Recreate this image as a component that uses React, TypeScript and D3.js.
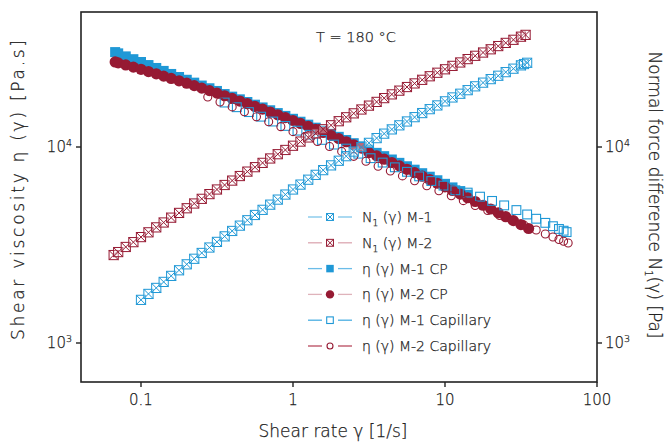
import React from "react";
import * as d3 from "d3";

// ---------- data ----------
const N1_M1_RATE = [0.1,0.112,0.126,0.141,0.158,0.178,0.2,0.224,0.251,0.282,0.316,0.355,0.398,0.447,0.501,0.562,0.631,0.708,0.794,0.891,1,1.12,1.26,1.41,1.58,1.78,2,2.24,2.51,2.82,3.16,3.55,3.98,4.47,5.01,5.62,6.31,7.08,7.94,8.91,10,11.2,12.6,14.1,15.8,17.8,20,22.4,25.1,28.2,31.6,33.1,34.7];
const N1_M1 = [1660,1780,1910,2050,2200,2350,2520,2690,2880,3070,3280,3500,3730,3970,4230,4500,4780,5080,5390,5720,6070,6430,6810,7210,7620,8060,8510,8980,9480,9990,10500,11100,11700,12300,12900,13500,14200,14900,15600,16300,17100,17900,18700,19500,20400,21300,22200,23100,24100,25100,26100,26500,26900];

const N1_M2_RATE = [0.0661,0.0708,0.0794,0.0891,0.1,0.112,0.126,0.141,0.158,0.178,0.2,0.224,0.251,0.282,0.316,0.355,0.398,0.447,0.501,0.562,0.631,0.708,0.794,0.891,1,1.12,1.26,1.41,1.58,1.78,2,2.24,2.51,2.82,3.16,3.55,3.98,4.47,5.01,5.62,6.31,7.08,7.94,8.91,10,11.2,12.6,14.1,15.8,17.8,20,22.4,25.1,28.2,31.6,33.9];
const N1_M2 = [2810,2910,3090,3270,3470,3670,3890,4120,4360,4610,4870,5150,5440,5750,6070,6400,6740,7110,7490,7890,8300,8740,9190,9660,10150,10660,11190,11740,12320,12910,13540,14180,14850,15540,16260,16990,17760,18560,19390,20230,21110,22020,22960,23930,24920,25940,27000,28090,29200,30340,31520,32730,33980,35240,36550,37340];

const CP_M1_RATE = [0.0676,0.0708,0.0794,0.0891,0.1,0.112,0.126,0.141,0.158,0.178,0.2,0.224,0.251,0.282,0.316,0.355,0.398,0.447,0.501,0.562,0.631,0.708,0.794,0.891,1,1.12,1.26,1.41,1.58,1.78,2,2.24,2.51,2.82,3.16,3.55,3.98,4.47,5.01,5.62,6.31,7.08,7.94,8.91,10,11.2,12.6,14.1];
const CP_M1 = [30500,30050,29000,28060,27150,26190,25310,24450,23590,22760,22030,21300,20590,19940,19320,18630,18070,17510,16970,16440,15920,15400,14900,14410,13930,13460,13000,12550,12110,11680,11270,10860,10460,10080,9700,9336,8980,8634,8302,7975,7661,7351,7054,6766,6488,6221,5959,5706];

const CP_M2_RATE = [0.0676,0.0708,0.0794,0.0891,0.1,0.112,0.126,0.141,0.158,0.178,0.2,0.224,0.251,0.282,0.316,0.355,0.398,0.447,0.501,0.562,0.631,0.708,0.794,0.891,1,1.12,1.26,1.41,1.58,1.78,2,2.24,2.51,2.82,3.16,3.55,3.98,4.47,5.01,5.62,6.31,7.08,7.94,8.91,10,11.2,12.6,14.1,15.8,17.8,20,22.4,25.1,28.2,31.6,35.5];
const CP_M2 = [27160,26880,26220,25560,24910,24270,23630,23000,22380,21760,21160,20560,19970,19400,18830,18260,17710,17160,16630,16110,15600,15090,14600,14120,13650,13190,12740,12300,11870,11450,11040,10640,10250,9876,9363,9012,8668,8334,8014,7698,7395,7096,6809,6531,6263,6005,5752,5508,5272,5044,4826,4615,4409,4212,4022,3839];

const CAP_M1_RATE = [0.355,0.427,0.513,0.617,0.741,0.891,1.07,1.29,1.55,1.86,2.24,2.69,3.24,3.89,4.68,5.62,6.76,8.13,9.77,11.7,14.1,17.0,20.4,24.5,29.5,34.7,39.8,45.7,51.3,56.2,60.3,63.1];
const CAP_M1 = [16860,15960,15070,14280,13490,12810,12120,11540,10870,10290,9815,9246,8771,8329,7880,7472,7083,6705,6354,6015,5852,5580,5308,5036,4767,4527,4305,4102,3944,3819,3741,3680];

const CAP_M2_RATE = [0.275,0.331,0.398,0.479,0.575,0.692,0.832,1,1.2,1.45,1.74,2.09,2.51,3.02,3.63,4.37,5.25,6.31,7.59,9.12,11.0,13.2,15.8,19.1,22.9,27.5,33.1,39.8,45.7,51.3,56.2,60.3,64.6];
const CAP_M2 = [17990,16980,16020,15120,14260,13460,12700,11980,11300,10670,10060,9497,8960,8455,7978,7549,7122,6722,6341,5982,5644,5325,5028,4742,4474,4233,3994,3769,3601,3475,3371,3304,3238];

const X_TICKS = [0.1, 1, 10, 100];
const X_TICK_LABELS = ["0.1", "1", "10", "100"];
const Y_TICKS = [1000, 10000];
const Y_TICK_EXP = ["3", "4"];

const BLUE = "#1f98d6";
const RED = "#961a33";

type Marker = "sqx" | "sqfill" | "circfill" | "sqopen" | "circopen";

const SERIES: { rate: number[]; val: number[]; color: string; marker: Marker }[] = [
  { rate: CP_M1_RATE, val: CP_M1, color: BLUE, marker: "sqfill" },
  { rate: CP_M2_RATE, val: CP_M2, color: RED, marker: "circfill" },
  { rate: CAP_M1_RATE, val: CAP_M1, color: BLUE, marker: "sqopen" },
  { rate: CAP_M2_RATE, val: CAP_M2, color: RED, marker: "circopen" },
  { rate: N1_M1_RATE, val: N1_M1, color: BLUE, marker: "sqx" },
  { rate: N1_M2_RATE, val: N1_M2, color: RED, marker: "sqx" },
];

const LEGEND = [
  { sub: true, label: " (γ) M-1", color: BLUE, marker: "sqx" as Marker, line: "#7cc4ea" },
  { sub: true, label: " (γ) M-2", color: RED, marker: "sqx" as Marker, line: "#dca7b1" },
  { sub: false, label: "η (γ) M-1 CP", color: BLUE, marker: "sqfill" as Marker, line: "#6bbce8" },
  { sub: false, label: "η (γ) M-2 CP", color: RED, marker: "circfill" as Marker, line: "#dfb3bb" },
  { sub: false, label: "η (γ) M-1 Capillary", color: BLUE, marker: "sqopen" as Marker, line: "#4aaee2" },
  { sub: false, label: "η (γ) M-2 Capillary", color: RED, marker: "circopen" as Marker, line: "#b8495e" },
];

const FONT = "'DejaVu Sans', Verdana, sans-serif";
const TXT = "#222";

function MarkerShape({ kind, cx, cy, color, scale = 1 }: { kind: Marker; cx: number; cy: number; color: string; scale?: number }) {
  if (kind === "sqx") {
    const h = 4.6 * scale;
    return (
      <g stroke={color} strokeWidth={1} fill="rgba(255,255,255,0.35)">
        <rect x={cx - h} y={cy - h} width={2 * h} height={2 * h} />
        <path d={`M${cx - h},${cy - h}L${cx + h},${cy + h}M${cx + h},${cy - h}L${cx - h},${cy + h}`} fill="none" />
      </g>
    );
  }
  if (kind === "sqfill") {
    const h = 5 * scale;
    return <rect x={cx - h} y={cy - h} width={2 * h} height={2 * h} fill={color} />;
  }
  if (kind === "circfill") {
    return <circle cx={cx} cy={cy} r={5.6 * scale} fill={color} />;
  }
  if (kind === "sqopen") {
    const h = 4.4 * scale;
    return <rect x={cx - h} y={cy - h} width={2 * h} height={2 * h} fill="none" stroke={color} strokeWidth={1.1} />;
  }
  return <circle cx={cx} cy={cy} r={4 * scale} fill="none" stroke={color} strokeWidth={1.1} />;
}

export default function App() {
  const W = 671, H = 443;
  const left = 81, right = 597, top = 12, bottom = 382;
  const x = d3.scaleLog().domain([0.0403, 100]).range([left, right]);
  const y = d3.scaleLog().domain([632.4, 48850]).range([bottom, top]);

  const legX = 308, legY0 = 217, legDy = 25.8;
  const textStyle = { fill: TXT, stroke: TXT, strokeWidth: 0.25 };

  return (
    <svg width={W} height={H} style={{ position: "absolute", left: 0, top: 0, background: "#fff" }} fontFamily={FONT} fontWeight={200}>
      {/* data */}
      {SERIES.map((s, i) => (
        <g key={i}>
          {s.rate.slice(0, Math.min(s.rate.length, s.val.length)).map((r, j) => (
            <MarkerShape key={j} kind={s.marker} cx={x(r)} cy={y(s.val[j])} color={s.color} />
          ))}
        </g>
      ))}

      {/* frame */}
      <rect x={left} y={top} width={right - left} height={bottom - top} fill="none" stroke="#222" strokeWidth={1.6} />

      <g {...textStyle}>
        {/* x ticks */}
        {X_TICKS.map((t, i) => (
          <g key={i}>
            <line x1={x(t)} x2={x(t)} y1={bottom} y2={bottom + 5} stroke="#222" strokeWidth={1.4} />
            <text x={x(t)} y={bottom + 23} textAnchor="middle" fontSize={15}>{X_TICK_LABELS[i]}</text>
          </g>
        ))}

        {/* y ticks (left & right) */}
        {Y_TICKS.map((t, i) => (
          <g key={i}>
            <line x1={left - 5} x2={left} y1={y(t)} y2={y(t)} stroke="#222" strokeWidth={1.4} />
            <text x={left - 9} y={y(t) + 5} textAnchor="end" fontSize={15}>
              10<tspan dy={-6} fontSize={9.5}>{Y_TICK_EXP[i]}</tspan>
            </text>
            <line x1={right} x2={right + 5} y1={y(t)} y2={y(t)} stroke="#222" strokeWidth={1.4} />
            <text x={right + 8} y={y(t) + 5} textAnchor="start" fontSize={15}>
              10<tspan dy={-6} fontSize={9.5}>{Y_TICK_EXP[i]}</tspan>
            </text>
          </g>
        ))}

        {/* axis titles */}
        <text x={333} y={437} textAnchor="middle" fontSize={17}>Shear rate γ [1/s]</text>
        <text transform={`translate(24,190) rotate(-90)`} textAnchor="middle" fontSize={17}
          textLength={300} lengthAdjust="spacing">
          Shear viscosity η (γ) [Pa.s]
        </text>
        <text transform={`translate(649,195) rotate(90)`} textAnchor="middle" fontSize={17}>
          Normal force difference N<tspan dy={4} fontSize={10}>1</tspan><tspan dy={-4}>(γ) [Pa]</tspan>
        </text>

        {/* annotation */}
        <text x={356} y={42} textAnchor="middle" fontSize={14.5}>T = 180 °C</text>
      </g>

      {/* legend */}
      {LEGEND.map((l, i) => {
        const cy = legY0 + i * legDy;
        return (
          <g key={i}>
            <line x1={legX} x2={legX + 14} y1={cy} y2={cy} stroke={l.line} strokeWidth={1.3} />
            <line x1={legX + 30} x2={legX + 44} y1={cy} y2={cy} stroke={l.line} strokeWidth={1.3} />
            <MarkerShape kind={l.marker} cx={legX + 22} cy={cy} color={l.color} scale={0.75} />
            <text x={legX + 54} y={cy + 5} fontSize={14} {...textStyle}>
              {l.sub ? (
                <>
                  N<tspan dy={4} fontSize={9}>1</tspan><tspan dy={-4}>{l.label}</tspan>
                </>
              ) : (
                l.label
              )}
            </text>
          </g>
        );
      })}
    </svg>
  );
}
